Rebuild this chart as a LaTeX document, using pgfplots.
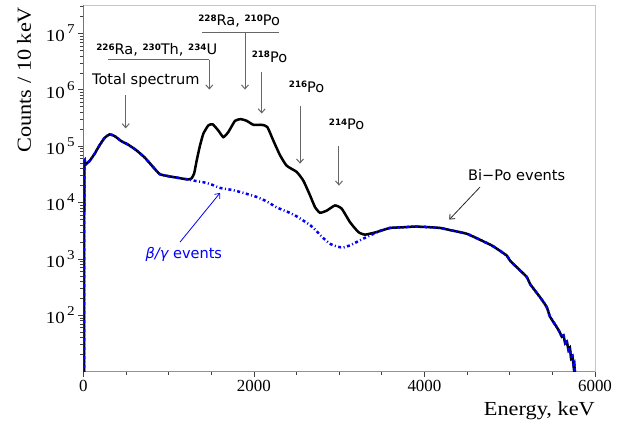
\documentclass[border=0pt]{standalone}
\usepackage{fontspec}
\setmainfont{Liberation Serif}[FakeStretch=1.12]
\newfontfamily\tickfont{Liberation Serif}
\newfontfamily\annot{DejaVu Sans}
\usepackage{pgfplots}
\pgfplotsset{compat=1.18}
\usepackage{pgfplotstable}
\usetikzlibrary{arrows.meta,calc}

% total spectrum (counts / 10 keV)
\pgfplotstableread{
E N
10 8
12 40000
25 47000
75 55000
134 74000
192 105000
251 141000
310 162000
368 151000
446 123000
524 107000
621 85000
720 63000
817 43000
896 32000
993 29500
1110 27500
1228 25700
1270 27000
1300 33000
1330 56000
1365 98000
1407 166000
1466 234000
1517 245000
1583 190000
1642 145000
1700 178000
1779 282000
1846 302000
1916 282000
1994 240000
2092 240000
2158 219000
2228 126000
2307 69000
2385 45000
2502 35000
2580 24500
2658 13500
2717 8300
2775 6600
2854 7200
2951 8900
3030 7800
3127 4500
3225 3000
3303 2700
3440 3000
3596 3550
3752 3650
3880 3750
4000 3700
4183 3550
4300 3250
4496 2800
4691 2050
4800 1700
4965 1150
5004 930
5199 480
5238 360
5355 210
5434 140
5472 95
5551 62
5590 49
5610 42
5630 44
5650 32
5670 34
5690 24
5705 27
5720 17
5735 19
5750 12
5758 13
5768 8
}\total

% beta/gamma events
\pgfplotstableread{
E N
10 8
12 40000
25 47000
75 55000
134 74000
192 105000
251 141000
310 162000
368 151000
446 123000
524 107000
621 85000
720 63000
817 43000
896 32000
993 29500
1110 27500
1228 25700
1330 24000
1407 23000
1500 21000
1603 18200
1759 16600
1900 14500
2033 12600
2150 10500
2268 8200
2400 6800
2502 5700
2658 4000
2720 3300
2800 2450
2893 1860
2980 1650
3049 1600
3130 1750
3206 2000
3323 2450
3479 3150
3596 3550
3752 3650
3880 3750
4000 3700
4183 3550
4300 3250
4496 2800
4691 2050
4800 1700
4965 1150
5004 930
5199 480
5238 360
5355 210
5434 140
5472 95
5551 62
5590 49
5610 42
5630 44
5650 32
5670 34
5690 24
5705 27
5720 17
5735 19
5750 12
5758 13
5768 8
}\betagamma

\newcommand{\dec}[1]{10\kern2.5bp\raisebox{8bp}{\fontsize{13.5}{13.5}\selectfont #1}}
\newcommand{\iso}[2]{\raisebox{4.7bp}{\fontsize{8.8}{8.8}\selectfont\bfseries #1}#2}

\tikzset{
  ann/.style={draw=black!60, line width=1bp},
  barb/.style={-{Straight Barb[length=4bp,width=7bp]}},
  lab/.style={inner sep=0pt, font=\annot\fontsize{14.6}{14.6}\selectfont}
}

\begin{document}
\begin{tikzpicture}
\begin{axis}[
  name=ax,
  scale only axis,
  width=511.7bp, height=366.4bp,
  ymode=log,
  xmin=0, xmax=6000,
  ymin=10, ymax=3.16e7,
  xtick={0,2000,4000,6000},
  xticklabels={0,2000,4000,6000},
  minor xtick={500,1000,1500,2500,3000,3500,4500,5000,5500},
  ytick={1e2,1e3,1e4,1e5,1e6,1e7},
  yticklabels={\dec{2},\dec{3},\dec{4},\dec{5},\dec{6},\dec{7}},
  minor ytick={20,30,40,50,60,70,80,90,
    200,300,400,500,600,700,800,900,
    2000,3000,4000,5000,6000,7000,8000,9000,
    20000,30000,40000,50000,60000,70000,80000,90000,
    200000,300000,400000,500000,600000,700000,800000,900000,
    2e6,3e6,4e6,5e6,6e6,7e6,8e6,9e6,2e7,3e7},
  tick align=outside,
  xtick pos=bottom, ytick pos=left,
  major tick length=5bp, minor tick length=3.5bp,
  every tick/.style={black!75, line width=0.7bp},
  axis line style={gray!45, line width=0.8bp},
  xticklabel style={font=\tickfont\fontsize{17}{17}\selectfont},
  yticklabel style={font=\fontsize{17}{17}\selectfont},
]
\draw[gray!85, line width=0.8bp] (rel axis cs:0,0) -- (rel axis cs:1,0);
\draw[black!70, line width=0.8bp] (rel axis cs:0,0) -- (rel axis cs:0,1);

\addplot[black, line width=2.5bp, smooth, tension=0.3] table[x=E, y=N] {\total};
\addplot[blue, line width=2.5bp, smooth, tension=0.3,
  dash pattern=on 3bp off 2.5bp on 1bp off 2.5bp] table[x=E, y=N] {\betagamma};

% annotations
\node[lab] at (733,1.45e6) {Total spectrum};
\draw[ann, barb] (497,8.0e5) -- (497,2.07e5);

\node[lab] at (861,5.05e6) {\iso{226}{Ra}, \iso{230}{Th}, \iso{234}{U}};
\draw[ann] (290,3.45e6) -- (1478,3.45e6);
\draw[ann, barb] (1478,3.45e6) -- (1478,1.01e6);

\node[lab] at (1828,1.65e7) {\iso{228}{Ra}, \iso{210}{Po}};
\draw[ann] (1395,1.03e7) -- (2295,1.03e7);
\draw[ann, barb] (1896,1.03e7) -- (1896,1.01e6);

\node[lab] at (2183,3.85e6) {\iso{218}{Po}};
\draw[ann, barb] (2092,2.08e6) -- (2092,3.8e5);

\node[lab] at (2619,1.12e6) {\iso{216}{Po}};
\draw[ann, barb] (2541,5.1e5) -- (2541,4.9e4);

\node[lab] at (3088,2.45e5) {\iso{214}{Po}};
\draw[ann, barb] (2998,1.0e5) -- (2998,2.0e4);

\node[lab] at (5082,3.04e4) {Bi−Po events};
\draw[draw=black!85, line width=0.8bp, barb] (4651,1.88e4) -- (4292,5.0e3);

\node[lab, text=blue] at (1179,1.18e3) {{\itshape β/γ} events};
\draw[draw=blue, line width=0.8bp, barb] (1134,1.99e3) -- (1603,1.48e4);
\end{axis}

\node[rotate=90, anchor=base east, inner sep=0pt, font=\fontsize{20}{20}\selectfont]
  at ($(ax.north west)+(-52.3bp,-1.4bp)$) {Counts / 10 keV};
\node[anchor=base east, inner sep=0pt, font=\fontsize{20}{20}\selectfont]
  at ($(ax.south east)+(0,-43.3bp)$) {Energy, keV};

\path ($(ax.south west)+(-83.3bp,-52.3bp)$) rectangle ($(ax.north east)+(29bp,5.3bp)$);
\end{tikzpicture}
\end{document}
